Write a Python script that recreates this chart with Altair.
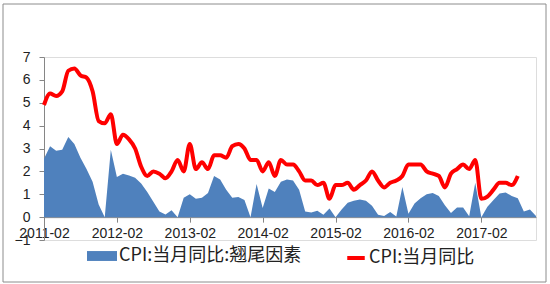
import altair as alt
import pandas as pd

# ---- data -------------------------------------------------------------
months = [str(p) for p in pd.period_range("2011-02", periods=82, freq="M")]
tick_labels = ["2011-02", "2012-02", "2013-02", "2014-02", "2015-02", "2016-02", "2017-02"]
y_ticks = [-1, 0, 1, 2, 3, 4, 5, 6, 7]

area_name = "CPI:当月同比:翘尾因素"
line_name = "CPI:当月同比"

# carry-over (翘尾因素), 2011-02 .. 2017-11
carry = [
    2.55, 3.10, 2.90, 2.95, 3.50, 3.20, 2.60, 2.10, 1.55, 0.55, 0.00,
    2.95, 1.75, 1.90, 1.82, 1.72, 1.47, 1.10, 0.67, 0.25, 0.12, 0.30, 0.00,
    0.85, 1.00, 0.80, 0.85, 1.05, 1.80, 1.65, 1.20, 0.85, 0.88, 0.75, 0.00,
    1.45, 0.40, 1.25, 1.10, 1.55, 1.65, 1.60, 1.20, 0.25, 0.20, 0.28, 0.10,
    0.38, 0.00, 0.33, 0.63, 0.72, 0.77, 0.72, 0.50, 0.10, 0.05, 0.22, 0.03,
    1.32, 0.15, 0.60, 0.82, 1.00, 1.06, 0.92, 0.52, 0.18, 0.42, 0.42, 0.04,
    1.50, 0.00, 0.45, 0.75, 1.03, 1.08, 0.92, 0.82, 0.25, 0.33, 0.05,
]

# CPI year-on-year, 2011-02 .. 2017-08
cpi = [
    4.9, 5.4, 5.3, 5.5, 6.4, 6.5, 6.2, 6.1, 5.5, 4.2, 4.1,
    4.5, 3.2, 3.6, 3.4, 3.0, 2.2, 1.8, 2.0, 1.9, 1.7, 2.0, 2.5,
    2.0, 3.2, 2.1, 2.4, 2.1, 2.7, 2.7, 2.6, 3.1, 3.2, 3.0, 2.5,
    2.5, 2.0, 2.4, 1.8, 2.5, 2.3, 2.3, 2.0, 1.6, 1.6, 1.4, 1.5,
    0.8, 1.4, 1.4, 1.5, 1.2, 1.4, 1.6, 2.0, 1.6, 1.3, 1.5, 1.6,
    1.8, 2.3, 2.3, 2.3, 2.0, 1.9, 1.8, 1.3, 1.9, 2.1, 2.3, 2.1,
    2.5, 0.8, 0.9, 1.2, 1.5, 1.5, 1.4, 1.8,
]

area_df = pd.DataFrame({"month": months[:len(carry)], "value": carry, "series": area_name})
line_df = pd.DataFrame({"month": months[:len(cpi)], "value": cpi, "series": line_name})

# ---- layout -----------------------------------------------------------
W, H = 492, 183
GRAY = "#868686"
TXT = "#222222"
AXF = "Liberation Sans"
CJK = "Noto Sans CJK SC"

x_axis = alt.Axis(
    values=tick_labels, labelAngle=0, title=None, offset=-H / 8,
    domainColor=GRAY, tickColor=GRAY, tickSize=5, labelPadding=4,
    labelFont=AXF, labelFontSize=14, labelColor=TXT, grid=False,
    labelOverlap=False,
)
y_axis = alt.Axis(
    values=y_ticks, tickCount=9, title=None, grid=False, domainColor=GRAY, tickColor=GRAY,
    tickSize=5, labelPadding=9, labelFont=AXF, labelFontSize=14, labelColor=TXT,
    labelOverlap=False, labelFlush=False,
)
x_scale = alt.Scale(type="point", domain=months, padding=0)
y_scale = alt.Scale(domain=[-1, 7], nice=False, zero=False)

area = alt.Chart(area_df).mark_area(opacity=1).encode(
    x=alt.X("month:O", scale=x_scale, axis=x_axis),
    y=alt.Y("value:Q", scale=y_scale, axis=y_axis),
    y2=alt.datum(0),
    fill=alt.Fill(
        "series:N",
        scale=alt.Scale(domain=[area_name], range=["#4F81BD"]),
        legend=alt.Legend(
            orient="none", legendX=43, legendY=184, title=None, padding=0,
            symbolType="M-1,-0.33H1V0.33H-1Z", symbolSize=900, symbolStrokeWidth=0,
            labelFont=CJK, labelFontSize=18, labelColor=TXT, labelLimit=400, labelOffset=2,
        ),
    ),
)

line = alt.Chart(line_df).mark_line(strokeWidth=4, interpolate="monotone").encode(
    x=alt.X("month:O", scale=x_scale, axis=x_axis),
    y=alt.Y("value:Q", scale=y_scale, axis=y_axis),
    stroke=alt.Stroke(
        "series:N",
        scale=alt.Scale(domain=[line_name], range=["#FF0000"]),
        legend=alt.Legend(
            orient="none", legendX=301, legendY=190, title=None, padding=0,
            symbolType="stroke", symbolSize=306, symbolStrokeWidth=4,
            labelFont=CJK, labelFontSize=18, labelColor=TXT, labelLimit=400, labelOffset=2,
        ),
    ),
)

frame = alt.Chart(alt.Data(values=[{}])).mark_rect(
    filled=False, stroke="#8c8c8c", strokeWidth=1
).encode(
    x=alt.value(-41), x2=alt.value(502), y=alt.value(-53), y2=alt.value(225)
)

chart = alt.layer(frame, area, line).properties(
    width=W, height=H,
    autosize=alt.AutoSizeParams(type="none"),
    padding={"left": 44, "top": 57, "right": 14, "bottom": 44},
).configure_view(stroke=None).configure(background="white")

chart.save("out.html", embed_options={"renderer": "svg", "actions": False})
